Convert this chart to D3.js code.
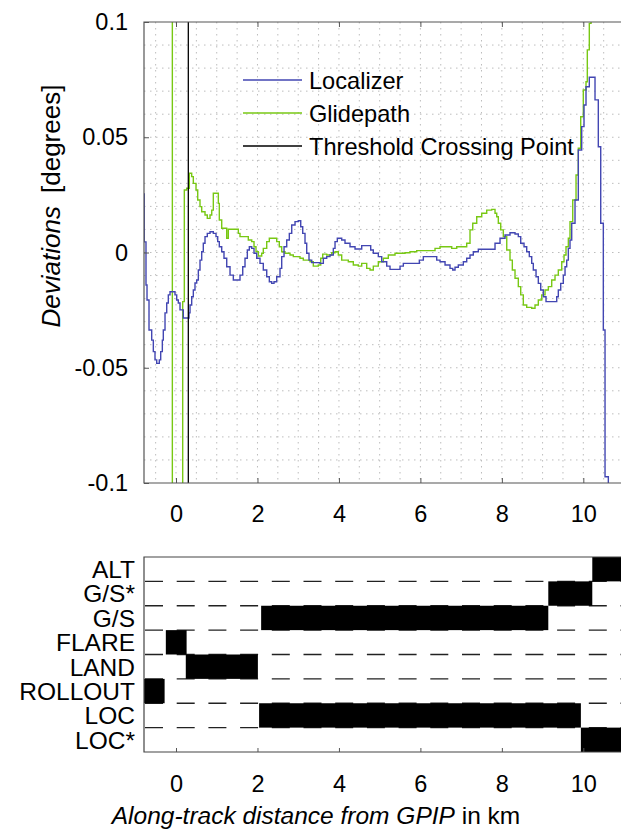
<!DOCTYPE html>
<html>
<head>
<meta charset="utf-8">
<script src="https://cdn.jsdelivr.net/npm/d3@7"></script>
<style>
  body { margin: 0; background: #fff; }
  text { font-family: "Liberation Sans", Arial, sans-serif; fill: #000; }
</style>
</head>
<body>
<svg id="chart" width="621" height="829"></svg>
<script>
// --- data ---
var locKm = [-0.79, -0.78, -0.737, -0.712, -0.663, -0.597, -0.557, -0.516, -0.474, -0.41, -0.376, -0.336, -0.312, -0.27, -0.228, -0.189, -0.147, -0.025, 0.017, 0.056, 0.098, 0.179, 0.319, 0.344, 0.385, 0.425, 0.466, 0.508, 0.548, 0.589, 0.631, 0.67, 0.712, 0.768, 0.835, 0.916, 0.982, 1.024, 1.063, 1.122, 1.178, 1.245, 1.326, 1.407, 1.571, 1.638, 1.694, 1.751, 1.8, 1.859, 1.915, 1.981, 2.062, 2.143, 2.227, 2.291, 2.35, 2.406, 2.472, 2.553, 2.595, 2.652, 2.718, 2.782, 2.841, 2.922, 3.003, 3.062, 3.111, 3.167, 3.209, 3.265, 3.332, 3.535, 3.617, 3.7, 3.781, 3.862, 3.904, 3.96, 4.068, 4.149, 4.272, 4.395, 4.559, 4.78, 4.844, 4.967, 5.05, 5.173, 5.254, 5.5, 5.581, 5.974, 6.072, 6.401, 6.482, 6.605, 6.727, 6.794, 6.85, 6.931, 7.054, 7.137, 7.218, 7.299, 7.422, 7.832, 7.955, 8.078, 8.2, 8.323, 8.404, 8.463, 8.544, 8.61, 8.674, 8.733, 8.772, 8.839, 8.895, 8.954, 9.018, 9.084, 9.347, 9.386, 9.445, 9.509, 9.551, 9.592, 9.632, 9.673, 9.715, 9.796, 9.877, 9.96, 10.017, 10.066, 10.147, 10.287, 10.368, 10.427, 10.491, 10.533, 10.614, 10.9];
var locDev = [0.0254, 0.0046, -0.0141, -0.0206, -0.0336, -0.038, -0.043, -0.0466, -0.0481, -0.0466, -0.043, -0.038, -0.0336, -0.0262, -0.0219, -0.0184, -0.017, -0.0184, -0.0206, -0.0219, -0.0249, -0.0284, -0.0262, -0.0228, -0.0192, -0.0163, -0.0132, -0.0119, -0.0076, -0.0033, 0.0003, 0.004, 0.0069, 0.0083, 0.009, 0.0083, 0.0069, 0.0047, 0.0025, 0.0003, -0.0025, -0.0062, -0.0098, -0.0119, -0.0098, -0.0062, -0.0025, 0.0011, 0.0025, 0.0018, -0.0003, -0.0025, -0.0047, -0.0076, -0.0105, -0.0127, -0.0134, -0.0127, -0.0105, -0.0069, -0.0018, 0.0025, 0.0054, 0.0083, 0.0119, 0.0134, 0.0138, 0.0112, 0.0083, 0.004, -0.0003, -0.0033, -0.0044, -0.0047, -0.0025, -0.0018, -0.0011, 0.0018, 0.0047, 0.0062, 0.0054, 0.004, 0.0025, 0.0015, 0.003, 0.0011, -0.0003, -0.0018, -0.004, -0.0059, -0.0073, -0.0059, -0.0047, -0.0033, -0.0018, -0.0033, -0.004, -0.0054, -0.0069, -0.0076, -0.0064, -0.0054, -0.004, -0.0025, -0.0011, 0.0003, 0.0014, 0.004, 0.0062, 0.0076, 0.0086, 0.008, 0.0069, 0.004, 0.0025, 0.0003, -0.0018, -0.0047, -0.0076, -0.0105, -0.0134, -0.0163, -0.0192, -0.0213, -0.0192, -0.0163, -0.0134, -0.0098, -0.0062, -0.0033, 0.0018, 0.0054, 0.0127, 0.0228, 0.0445, 0.0546, 0.064, 0.0719, 0.076, 0.0662, 0.0459, 0.0127, -0.0336, -0.0973, -0.116, -0.116];

var gsKm = [-0.2, -0.09, 0.164, 0.204, 0.263, 0.327, 0.385, 0.425, 0.491, 0.533, 0.589, 0.631, 0.712, 0.768, 0.835, 0.877, 0.916, 1.039, 1.063, 1.122, 1.245, 1.284, 1.53, 1.571, 1.775, 1.859, 1.915, 1.964, 2.021, 2.104, 2.143, 2.227, 2.291, 2.472, 2.536, 2.595, 2.676, 2.799, 2.88, 3.044, 3.125, 3.29, 3.371, 3.494, 3.553, 3.602, 3.7, 3.823, 3.904, 3.985, 4.068, 4.23, 4.353, 4.476, 4.559, 4.682, 4.763, 4.844, 4.967, 5.09, 5.212, 5.377, 5.622, 5.745, 5.91, 6.359, 6.482, 6.769, 6.892, 7.137, 7.218, 7.285, 7.383, 7.506, 7.628, 7.751, 7.832, 7.874, 7.913, 7.972, 8.036, 8.12, 8.2, 8.257, 8.323, 8.404, 8.463, 8.527, 8.61, 8.733, 8.814, 8.895, 8.979, 9.06, 9.141, 9.224, 9.305, 9.386, 9.47, 9.526, 9.575, 9.632, 9.673, 9.74, 9.821, 9.877, 9.936, 10.0, 10.066, 10.098, 10.147, 10.19, 10.9];
var gsDev = [0.3, -0.3, -0.0213, 0.0271, 0.0279, 0.0344, 0.0329, 0.03, 0.0271, 0.0228, 0.0199, 0.0177, 0.0163, 0.0148, 0.0163, 0.0184, 0.0257, 0.0213, 0.0141, 0.0105, 0.0062, 0.0101, 0.0083, 0.0069, 0.0054, 0.0047, 0.0025, 0.0003, -0.0015, -0.0003, 0.0018, 0.0047, 0.0062, 0.0047, 0.0025, 0.0003, -0.0003, -0.0011, -0.0018, -0.0025, -0.0033, -0.004, -0.0059, -0.0054, -0.0025, -0.0007, -0.0011, -0.0001, 0.0003, -0.0011, -0.0033, -0.004, -0.0054, -0.0059, -0.0047, -0.0069, -0.0076, -0.0059, -0.004, -0.0025, -0.0011, -0.0003, -0.0001, 0.0003, 0.0008, 0.0018, 0.0025, 0.0018, 0.0025, 0.004, 0.0098, 0.0127, 0.0155, 0.017, 0.0184, 0.0187, 0.017, 0.0155, 0.0127, 0.0098, 0.0069, 0.0011, -0.0033, -0.0076, -0.0112, -0.0148, -0.0184, -0.0228, -0.0238, -0.0242, -0.0228, -0.0206, -0.0184, -0.0163, -0.0148, -0.0119, -0.0098, -0.0076, -0.004, -0.0011, 0.0025, 0.0062, 0.0134, 0.0228, 0.0336, 0.0452, 0.0589, 0.0705, 0.0741, 0.0879, 0.0994, 0.15, 0.15];

var tcpKm = 0.302;   // threshold crossing point

var modes = ["ALT", "G/S*", "G/S", "FLARE", "LAND", "ROLLOUT", "LOC", "LOC*"];
var modeStart = [10.22, 9.14, 2.09, -0.25, 0.24, -0.9, 2.04, 9.94];
var modeEnd = [11.5, 10.22, 9.14, 0.26, 2.01, -0.28, 9.94, 11.5];

var xTicks = [0, 2, 4, 6, 8, 10];
var yTicks = [-0.1, -0.05, 0, 0.05, 0.1];
var yTickLabels = ["-0.1", "-0.05", "0", "0.05", "0.1"];
var legendNames = ["Localizer", "Glidepath", "Threshold Crossing Point"];
var legendColors = ["#4246b2", "#78c814", "#000"];

// --- layout ---
var left = 144, right = 621;
var top1 = 22, bottom1 = 483;
var top2 = 557, bottom2 = 752;

var svg = d3.select("#chart");

var x = d3.scaleLinear().domain([-0.786, 10.925]).range([left, right]);
var y = d3.scaleLinear().domain([-0.1, 0.1]).range([bottom1, top1]);

svg.append("defs").append("clipPath").attr("id", "clip1")
    .append("rect")
    .attr("x", left).attr("y", top1)
    .attr("width", right - left).attr("height", bottom1 - top1);
svg.select("defs").append("clipPath").attr("id", "clip2")
    .append("rect")
    .attr("x", left).attr("y", top2)
    .attr("width", right - left).attr("height", bottom2 - top2);

// dotted grid (major + minor)
var grid = svg.append("g").attr("stroke", "#bdbdbd").attr("stroke-width", 1)
    .attr("stroke-dasharray", "1.5,4.5");
grid.selectAll(".gx")
    .data(d3.range(-0.5, 10.6, 0.5))
    .enter().append("line")
    .attr("x1", d => x(d)).attr("x2", d => x(d))
    .attr("y1", top1).attr("y2", bottom1);
grid.selectAll(".gy")
    .data(d3.range(-9, 10).map(d => d / 100))
    .enter().append("line")
    .attr("x1", left).attr("x2", right)
    .attr("y1", d => y(d)).attr("y2", d => y(d));

// curves
var line = d3.line()
    .x(d => x(d[0]))
    .y(d => y(d[1]))
    .curve(d3.curveStepAfter);

var plot = svg.append("g").attr("clip-path", "url(#clip1)");

plot.append("path")
    .datum(d3.zip(gsKm, gsDev))
    .attr("fill", "none")
    .attr("stroke", legendColors[1])
    .attr("stroke-width", 1.4)
    .attr("d", line);

plot.append("path")
    .datum(d3.zip(locKm, locDev))
    .attr("fill", "none")
    .attr("stroke", legendColors[0])
    .attr("stroke-width", 1.4)
    .attr("d", line);

plot.append("line")
    .attr("x1", x(tcpKm)).attr("x2", x(tcpKm))
    .attr("y1", top1).attr("y2", bottom1)
    .attr("stroke", "#000").attr("stroke-width", 1.3);

// box
svg.append("path")
    .attr("d", `M${right},${top1}H${left}V${bottom1}H${right}`)
    .attr("fill", "none").attr("stroke", "#555").attr("stroke-width", 1.2);

// axes top plot
var xAxis1 = svg.append("g")
    .attr("transform", `translate(0,${bottom1})`)
    .call(d3.axisBottom(x).tickValues(xTicks).tickSize(-5).tickPadding(22).tickFormat(d3.format("d")));
var xAxis1t = svg.append("g")
    .attr("transform", `translate(0,${top1})`)
    .call(d3.axisTop(x).tickValues(xTicks).tickSize(-5).tickFormat(""));
var yAxis1 = svg.append("g")
    .attr("transform", `translate(${left},0)`)
    .call(d3.axisLeft(y).tickValues(yTicks).tickSize(-5).tickPadding(16)
        .tickFormat((d, i) => yTickLabels[i]));

[xAxis1, xAxis1t, yAxis1].forEach(function(g) {
    g.select(".domain").remove();
    g.selectAll("line").attr("stroke", "#555");
    g.selectAll("text").style("font-size", "23.5px").attr("fill", "#000");
});

// legend
var legend = svg.append("g");
legendNames.forEach(function(name, i) {
    var ly = 80 + i * 33;
    legend.append("line")
        .attr("x1", 243).attr("x2", 302)
        .attr("y1", ly).attr("y2", ly)
        .attr("stroke", legendColors[i]).attr("stroke-width", 1.4);
    legend.append("text")
        .attr("x", 309).attr("y", ly + 8.5)
        .style("font-size", "23.6px")
        .text(name);
});

// y label
var ylab = svg.append("text")
    .attr("transform", "translate(60,206) rotate(-90)")
    .attr("text-anchor", "middle")
    .style("font-size", "26px");
ylab.append("tspan").style("font-style", "italic").text("Deviations");
ylab.append("tspan").attr("dx", 13).text("[degrees]");

// --- mode chart ---
var yb = d3.scaleBand().domain(modes).range([top2, bottom2]);

var dash = svg.append("g").attr("stroke", "#222").attr("stroke-width", 1.3)
    .attr("stroke-dasharray", "18,13.7").attr("clip-path", "url(#clip2)");
dash.selectAll("line")
    .data(modes.slice(1))
    .enter().append("line")
    .attr("x1", left + 1).attr("x2", right)
    .attr("y1", d => yb(d)).attr("y2", d => yb(d));

svg.append("g").attr("clip-path", "url(#clip2)")
    .selectAll("rect")
    .data(modes)
    .enter().append("rect")
    .attr("x", (d, i) => x(modeStart[i]))
    .attr("width", (d, i) => x(modeEnd[i]) - x(modeStart[i]))
    .attr("y", d => yb(d))
    .attr("height", yb.bandwidth())
    .attr("fill", "#000");

svg.append("path")
    .attr("d", `M${right},${top2}H${left}V${bottom2}H${right}`)
    .attr("fill", "none").attr("stroke", "#444").attr("stroke-width", 1.2);

var xAxis2 = svg.append("g")
    .attr("transform", `translate(0,${bottom2})`)
    .call(d3.axisBottom(x).tickValues(xTicks).tickSize(-4).tickPadding(23).tickFormat(d3.format("d")));
var yAxis2 = svg.append("g")
    .attr("transform", `translate(${left},0)`)
    .call(d3.axisLeft(yb).tickSize(0).tickPadding(9));

[xAxis2, yAxis2].forEach(function(g) {
    g.select(".domain").remove();
    g.selectAll("line").attr("stroke", "#555");
    g.selectAll("text").style("font-size", "23.5px").attr("fill", "#000");
});
yAxis2.selectAll("text").style("font-size", "24.5px").attr("dy", "0.36em");

// x label
var xlab = svg.append("text")
    .attr("x", 316).attr("y", 824)
    .attr("text-anchor", "middle")
    .style("font-size", "24.5px");
xlab.append("tspan").style("font-style", "italic").text("Along-track distance from GPIP");
xlab.append("tspan").text(" in km");
</script>
</body>
</html>
